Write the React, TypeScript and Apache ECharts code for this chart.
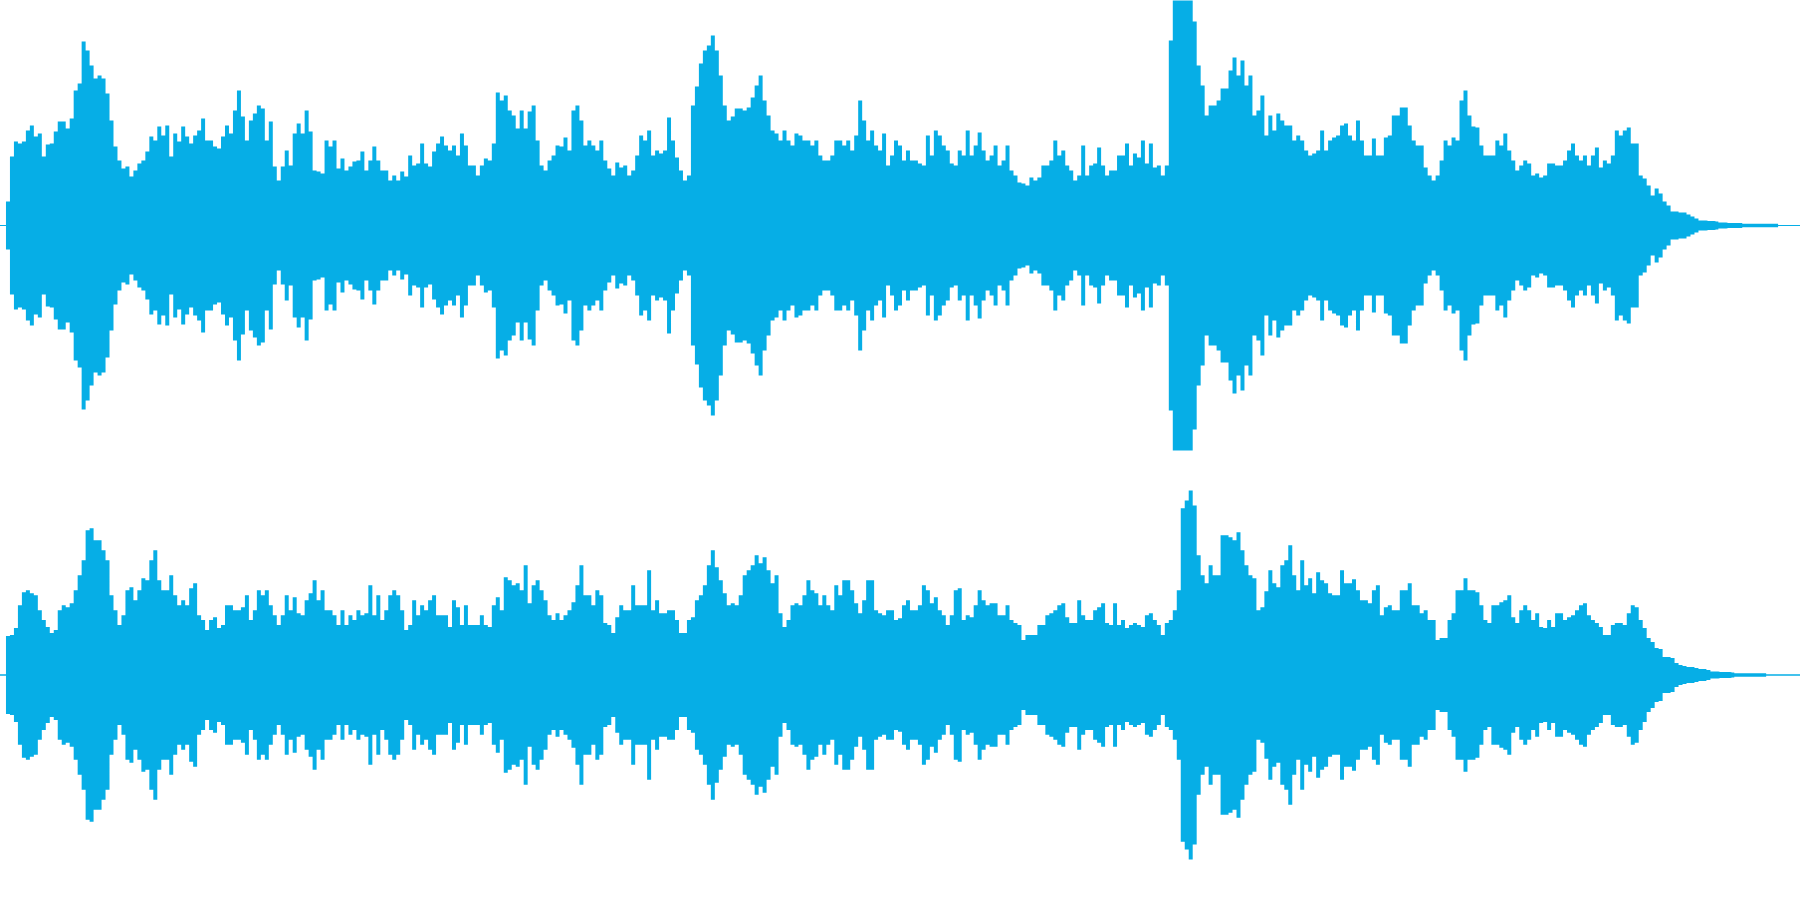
import React, { useEffect, useRef } from "react";
import * as echarts from "echarts";

const COLOR = "#06aee6";
const CROP_WIDTH = 450;

// Channel 1 peak amplitude, one list per 450px stretch
const upperA = [0.5,0.5,24,69,84,82,84,95,100,89,92,69,81,82,94,104,104,97,107,135,142,184,175,160,147,150,147,132,105,79,65,57,59,49,55,62,65,74,89,85,99,90,100,69,92,84,99,89,82,90,95,107,85,85,79,77,89,100,92,115,135,109,85,105,112,120,117,85,104,59,45,59,75,60,92,102,92,115,94,55,54,52,85,79,85,57,67,55,59,64,65,74,55,65,79,65,55,55,45,50,45,54,49,70,60,62,82,62,59,74,82,89,80];
const upperB = [75,80,70,92,80,60,60,50,60,67,65,82,133,125,130,115,110,97,115,97,114,120,85,60,55,65,70,80,79,88,75,115,120,105,80,85,80,75,85,65,57,50,63,58,60,50,55,70,90,85,95,70,75,72,75,108,85,68,55,45,50,120,139,162,175,180,190,175,150,120,105,109,117,117,115,118,128,140,150,125,110,95,92,85,95,85,80,92,90,85,85,80,85,70,65,65,70,85,85,80,85,75,90,125,105,85,95,80,75,92,60,70,85];
const upperC = [80,65,75,65,65,62,60,90,70,95,90,80,75,62,60,75,70,95,70,80,93,75,65,70,80,60,65,80,55,50,43,42,40,48,45,48,60,60,65,85,70,75,60,55,45,50,80,50,60,62,78,60,50,55,55,70,70,82,60,72,68,85,62,82,58,60,50,60,185,225,225,225,225,225,204,160,140,110,120,120,125,137,137,155,168,150,165,140,150,110,115,130,90,110,95,112,105,100,100,85,90,85,75,70,72,75,95,75,85,88,90,100,102];
const upperD = [90,85,105,85,70,70,87,70,70,88,90,110,110,118,118,100,85,80,80,58,50,45,50,65,85,80,88,85,125,135,110,99,98,80,70,70,70,85,80,92,75,65,55,60,65,62,50,52,48,50,62,62,60,60,65,75,82,70,65,70,60,70,78,58,65,62,70,95,90,95,98,82,82,50,47,40,30,37,32,24,20,14,14,13,13,11,9,7,5,5,4.5,4.5,4,3,3,2.5,2.5,2.5,2.5,1.7,1.7,1.7,1.7,1.7,1.7,1.7,1.7,1.7,0.5,0.5,0.5,0.5,0.5];

// Channel 2 peak amplitude
const lowerA = [0.5,0.5,39,40,47,70,83,85,82,80,65,55,48,42,45,65,70,68,72,85,100,115,145,147,135,135,125,115,80,65,50,60,85,88,75,85,97,95,115,125,95,85,85,100,80,70,75,70,87,92,60,55,45,55,58,47,50,70,70,65,65,68,80,55,65,85,80,85,70,60,50,60,80,65,78,62,60,75,82,95,75,85,65,65,60,50,65,50,60,55,65,60,62,90,60,80,55,65,80,85,80,65,45,50,75,60,70,65,75,80,60,60,60];
const lowerB = [48,75,68,50,70,50,50,50,60,50,48,70,78,65,98,95,90,92,85,110,72,90,95,85,75,60,55,62,55,60,65,73,90,110,80,80,70,85,80,52,50,42,58,70,65,65,90,70,70,70,105,65,75,62,62,65,65,55,42,42,55,58,75,80,90,110,125,108,95,82,70,72,70,80,100,105,110,120,112,118,105,92,100,62,48,55,70,72,70,80,95,85,82,70,80,70,65,90,80,95,95,85,72,62,75,95,95,65,62,60,65,65,55];
const lowerC = [57,70,75,65,65,70,90,85,72,78,65,60,50,60,85,87,55,60,58,70,85,75,70,72,72,60,60,70,55,52,50,35,40,40,40,50,50,60,62,65,70,72,58,52,52,75,60,55,55,65,68,72,52,50,72,50,55,47,50,52,50,48,60,62,55,50,40,52,55,65,85,167,175,185,170,120,100,92,110,100,100,140,140,138,135,143,125,110,100,97,65,68,84,105,92,88,110,115,130,100,85,115,90,97,82,103,95,92,82,80,80,105,92];
const lowerD = [92,96,85,75,75,72,85,90,60,68,70,65,65,85,85,92,70,70,62,65,55,55,35,37,37,55,62,85,85,97,85,85,83,70,55,52,70,70,73,75,80,58,52,65,70,65,55,62,48,47,55,48,62,62,55,58,60,65,70,72,60,55,52,48,40,40,50,52,52,50,62,70,68,55,47,37,33,27,26,18,18,17,12,10,9,8,8,7,6,6,5,3.5,3.5,3,3,3,2.5,1.7,1.7,1.7,1.7,1.7,1.7,1.7,1.7,0.5,0.5,0.5,0.5,0.5,0.5,0.5,0.5];

const upperCrops = [upperA, upperB, upperC, upperD];
const lowerCrops = [lowerA, lowerB, lowerC, lowerD];

function toPoints(crops: number[][], sign: number) {
  const pts: number[][] = [];
  crops.forEach((crop, c) => {
    crop.forEach((amp, i) => {
      pts.push([c * CROP_WIDTH + (i * CROP_WIDTH) / crop.length, sign * amp]);
    });
  });
  pts.push([1800, sign * 0.5]);
  return pts;
}

function wave(index: number, data: number[][], sign: number) {
  return {
    type: "line",
    xAxisIndex: index,
    yAxisIndex: index,
    data,
    step: "middle",
    showSymbol: false,
    silent: true,
    clip: true,
    lineStyle: { width: 0 },
    itemStyle: { color: COLOR },
    areaStyle: { color: COLOR, opacity: 1, origin: -0.5 * sign },
  };
}

export default function App() {
  const ref = useRef<HTMLDivElement>(null);
  useEffect(() => {
    if (!ref.current) return;
    const chart = echarts.init(ref.current, undefined, { renderer: "svg" });
    const xAxis = { type: "value", min: 0, max: 1800, show: false };
    const yAxis = { type: "value", min: -225.5, max: 225.5, show: false };
    chart.setOption({
      animation: false,
      backgroundColor: "#ffffff",
      grid: [
        { left: 0, right: 0, top: 0, height: 451 },
        { left: 0, right: 0, top: 450, height: 451 },
      ],
      xAxis: [
        { ...xAxis, gridIndex: 0 },
        { ...xAxis, gridIndex: 1 },
      ],
      yAxis: [
        { ...yAxis, gridIndex: 0 },
        { ...yAxis, gridIndex: 1 },
      ],
      series: [
        wave(0, toPoints(upperCrops, 1), 1),
        wave(0, toPoints(upperCrops, -1), -1),
        wave(1, toPoints(lowerCrops, 1), 1),
        wave(1, toPoints(lowerCrops, -1), -1),
      ],
    });
    return () => chart.dispose();
  }, []);
  return (
    <div
      ref={ref}
      style={{ position: "fixed", left: 0, top: 0, width: 1800, height: 900, background: "#fff" }}
    />
  );
}
